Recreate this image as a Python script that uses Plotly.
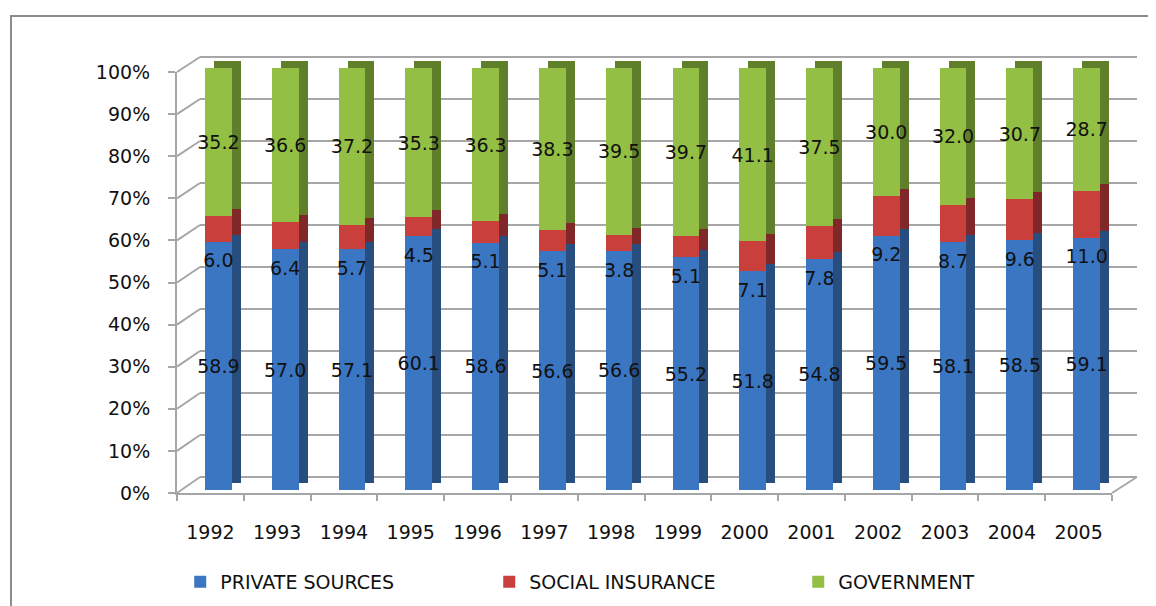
import plotly.graph_objects as go

years = ['1992', '1993', '1994', '1995', '1996', '1997', '1998',
         '1999', '2000', '2001', '2002', '2003', '2004', '2005']
private = [58.9, 57.0, 57.1, 60.1, 58.6, 56.6, 56.6, 55.2, 51.8, 54.8, 59.5, 58.1, 58.5, 59.1]
social = [6.0, 6.4, 5.7, 4.5, 5.1, 5.1, 3.8, 5.1, 7.1, 7.8, 9.2, 8.7, 9.6, 11.0]
government = [35.2, 36.6, 37.2, 35.3, 36.3, 38.3, 39.5, 39.7, 41.1, 37.5, 30.0, 32.0, 30.7, 28.7]
pct_ticks = list(range(0, 101, 10))
pct_labels = ['%d%%' % v for v in pct_ticks]

W, H = 1156, 606
PAGE = 8  # body margin of the html page
FONT = 'DejaVu Sans'


def dom_x(left, right):
    return [(left - PAGE) / W, (right - PAGE) / W]


def dom_y(top, bottom):
    return [(H - bottom + PAGE) / H, (H - top + PAGE) / H]


# pixel boxes (screen coords) of the fake 3D layers
wall = dict(x=dom_x(200, 1137), y=dom_y(57 - 2.1, 477 + 2.1))  # back wall, range padded by 0.5
depth = dict(x=dom_x(194, 1129), y=dom_y(61, 483))             # side/top faces
front = dict(x=dom_x(185, 1120), y=dom_y(68, 490))             # front faces
labels = dict(x=front['x'], y=dom_y(89, 511))                  # social insurance labels
axis = dict(x=dom_x(177, 1112), y=dom_y(72, 493))              # front axis, ticks, labels

front_cols = {'PRIVATE SOURCES': '#3b76c3', 'SOCIAL INSURANCE': '#c93f3c', 'GOVERNMENT': '#94bf45'}
side_cols = {'PRIVATE SOURCES': '#284e80', 'SOCIAL INSURANCE': '#80272a', 'GOVERNMENT': '#5f7f2a'}
series = [('PRIVATE SOURCES', private), ('SOCIAL INSURANCE', social), ('GOVERNMENT', government)]

# social labels hang from the top of the private segment (in 100% terms)
private_share = [p / (p + s + g) * 100 for p, s, g in zip(private, social, government)]

fig = go.Figure()

# back wall (only to carry the grid)
fig.add_trace(go.Scatter(x=years, y=government, xaxis='x', yaxis='y', mode='none',
                         showlegend=False, hoverinfo='skip'))

# depth faces
for name, vals in series:
    fig.add_trace(go.Bar(x=years, y=vals, xaxis='x2', yaxis='y2', width=0.4,
                         marker=dict(color=side_cols[name], line=dict(width=0)),
                         showlegend=False, hoverinfo='skip'))

# front faces
for name, vals in series:
    show_text = name != 'SOCIAL INSURANCE'
    fig.add_trace(go.Bar(
        x=years, y=vals, name=name, xaxis='x3', yaxis='y3', width=0.4,
        marker=dict(color=front_cols[name], line=dict(width=0)),
        text=['%.1f' % v for v in vals] if show_text else None,
        textposition='inside', insidetextanchor='middle', textangle=0,
        constraintext='none',
        textfont=dict(family=FONT, size=19, color='#111111'),
    ))

fig.add_trace(go.Scatter(x=years, y=private_share, xaxis='x5', yaxis='y5', mode='text',
                         text=['%.1f' % v for v in social], textposition='middle center',
                         textfont=dict(family=FONT, size=19, color='#111111'),
                         showlegend=False, hoverinfo='skip', cliponaxis=False))

# front axis carrier
fig.add_trace(go.Scatter(x=years, y=private, xaxis='x4', yaxis='y4', mode='none',
                         showlegend=False, hoverinfo='skip'))

hidden_x = dict(type='category', categoryorder='array', categoryarray=years,
                range=[-0.5, len(years) - 0.5], showgrid=False, zeroline=False,
                showticklabels=False, ticks='', showline=False)
hidden_y = dict(range=[0, 100], showgrid=False, zeroline=False,
                showticklabels=False, ticks='', showline=False)


def fy(v, d, lo=0, hi=100):
    return d[0] + (v - lo) / (hi - lo) * (d[1] - d[0])


shapes = []
# diagonal tick connectors front axis -> back wall
for v in pct_ticks:
    shapes.append(dict(type='line', xref='paper', yref='paper',
                       x0=axis['x'][0], y0=fy(v, axis['y']),
                       x1=wall['x'][0], y1=fy(v, wall['y'], -0.5, 100.5),
                       line=dict(color='#a6a6a6', width=2), layer='below'))
shapes.append(dict(type='line', xref='paper', yref='paper',
                   x0=axis['x'][1], y0=axis['y'][0],
                   x1=wall['x'][1], y1=fy(0, wall['y'], -0.5, 100.5),
                   line=dict(color='#a6a6a6', width=2), layer='below'))
# outer chart border
shapes.append(dict(type='rect', xref='paper', yref='paper',
                   x0=(11 - PAGE) / W, y0=-0.1, x1=1.1, y1=(H - 16 + PAGE) / H,
                   line=dict(color='#8c8c8c', width=2), layer='below'))

fig.update_layout(
    width=W, height=H,
    margin=dict(l=0, r=0, t=0, b=0, autoexpand=False),
    paper_bgcolor='white', plot_bgcolor='rgba(0,0,0,0)',
    barmode='stack', barnorm='percent',
    font=dict(family=FONT, size=19, color='#111111'),
    xaxis=dict(domain=wall['x'], anchor='y', **hidden_x),
    yaxis=dict(domain=wall['y'], anchor='x', range=[-0.5, 100.5], tickvals=pct_ticks,
               showgrid=True, gridcolor='#a6a6a6', gridwidth=2, zeroline=False,
               showticklabels=False, ticks='', showline=False),
    xaxis2=dict(domain=depth['x'], anchor='y2', **hidden_x),
    yaxis2=dict(domain=depth['y'], anchor='x2', **hidden_y),
    xaxis3=dict(domain=front['x'], anchor='y3', **hidden_x),
    yaxis3=dict(domain=front['y'], anchor='x3', **hidden_y),
    xaxis4=dict(domain=axis['x'], anchor='y4', type='category', categoryorder='array',
                categoryarray=years, range=[-0.5, len(years) - 0.5],
                showgrid=False, zeroline=False, showline=True, linecolor='#a6a6a6', linewidth=2,
                ticks='outside', ticklen=6, tickcolor='#a6a6a6', tickwidth=2,
                tickson='boundaries', ticklabelstandoff=21,
                tickfont=dict(family=FONT, size=19, color='#111111')),
    yaxis4=dict(domain=axis['y'], anchor='x4', range=[0, 100], tickvals=pct_ticks,
                ticktext=pct_labels, showgrid=False, zeroline=False, showline=True,
                linecolor='#a6a6a6', linewidth=2, ticks='outside', ticklen=7,
                tickcolor='#a6a6a6', tickwidth=2, ticklabelstandoff=14,
                tickfont=dict(family=FONT, size=19, color='#111111')),
    xaxis5=dict(domain=labels['x'], anchor='y5', **hidden_x),
    yaxis5=dict(domain=labels['y'], anchor='x5', **hidden_y),
    legend=dict(orientation='h', x=0.149, y=(H - 582 + PAGE) / H, xanchor='left', yanchor='middle',
                entrywidth=264, traceorder='normal',
                font=dict(family=FONT, size=19, color='#111111')),
    shapes=shapes,
)

fig.write_html("out.html")
